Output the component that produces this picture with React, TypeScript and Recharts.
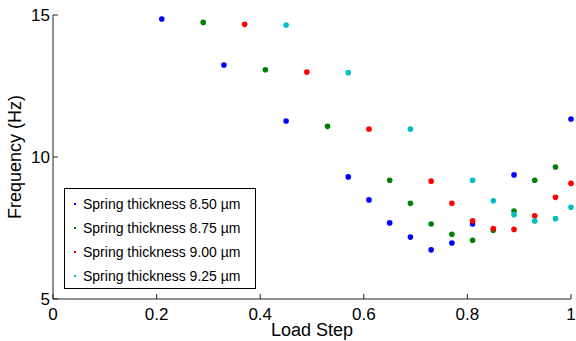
import { ScatterChart, Scatter, XAxis, YAxis, Legend } from "recharts";

// load steps and measured frequency (Hz) for each spring thickness
const loadA = [0.21, 0.33, 0.45, 0.57, 0.61, 0.65, 0.69, 0.73, 0.77, 0.81, 0.89, 1.0];
const freqA = [14.86, 13.24, 11.27, 9.3, 8.49, 7.68, 7.18, 6.73, 6.97, 7.64, 9.37, 11.34];

const loadB = [0.29, 0.41, 0.53, 0.65, 0.69, 0.73, 0.77, 0.81, 0.85, 0.89, 0.93, 0.97];
const freqB = [14.74, 13.07, 11.08, 9.18, 8.37, 7.64, 7.28, 7.07, 7.42, 8.1, 9.18, 9.65];

const loadC = [0.37, 0.49, 0.61, 0.73, 0.77, 0.81, 0.85, 0.89, 0.93, 0.97, 1.0];
const freqC = [14.67, 12.99, 10.98, 9.15, 8.37, 7.75, 7.48, 7.45, 7.93, 8.58, 9.07];

const loadD = [0.45, 0.57, 0.69, 0.81, 0.85, 0.89, 0.93, 0.97, 1.0];
const freqD = [14.65, 12.97, 10.98, 9.18, 8.46, 7.97, 7.75, 7.83, 8.23];

const seriesNames = [
  "Spring thickness 8.50 \u00b5m",
  "Spring thickness 8.75 \u00b5m",
  "Spring thickness 9.00 \u00b5m",
  "Spring thickness 9.25 \u00b5m"
];
const colors = ["#0000ff", "#008000", "#ff0000", "#00bfbf"];

const xTicks = [0, 0.2, 0.4, 0.6, 0.8, 1];
const yTicks = [5, 10, 15];

const toPoints = (xs: number[], ys: number[]) => xs.map((x, i) => ({ x, y: ys[i] }));
const series = [
  toPoints(loadA, freqA),
  toPoints(loadB, freqB),
  toPoints(loadC, freqC),
  toPoints(loadD, freqD)
];

const font = "'Liberation Sans', Arial, sans-serif";
const axisColor = "#222";

const XTick = (props: any) => {
  const { x, y, payload } = props;
  return (
    <g>
      <line x1={x} y1={y} x2={x} y2={y - 5} stroke={axisColor} />
      <text x={x} y={y + 21} textAnchor="middle" fontSize={17} fontFamily={font} fill="#000">
        {payload.value}
      </text>
    </g>
  );
};

const YTick = (props: any) => {
  const { x, y, payload } = props;
  return (
    <g>
      <line x1={x} y1={y} x2={x + 5} y2={y} stroke={axisColor} />
      <text x={x - 3} y={y + 6} textAnchor="end" fontSize={17} fontFamily={font} fill="#000">
        {payload.value}
      </text>
    </g>
  );
};

const Dot = (props: any) => <circle cx={props.cx} cy={props.cy} r={2.8} fill={props.fill} />;

const LegendBox = () => (
  <div
    style={{
      width: 190,
      height: 96,
      border: "1px solid #000",
      background: "#fff",
      fontFamily: font,
      fontSize: 14,
      color: "#000",
      paddingTop: 3,
      boxSizing: "content-box"
    }}
  >
    {seriesNames.map((name, i) => (
      <div key={i} style={{ height: 24, lineHeight: "24px", position: "relative", whiteSpace: "nowrap" }}>
        <span
          style={{
            position: "absolute",
            left: 9,
            top: 11,
            width: 2,
            height: 2,
            background: colors[i]
          }}
        />
        <span style={{ position: "absolute", left: 18 }}>{name}</span>
      </div>
    ))}
  </div>
);

export default function App() {
  return (
    <div style={{ position: "absolute", left: 0, top: 0, background: "#fff" }}>
      <ScatterChart width={576} height={341} margin={{ top: 15, right: 5, left: 0, bottom: 0 }}>
        <XAxis
          type="number"
          dataKey="x"
          domain={[0, 1]}
          ticks={xTicks}
          tickSize={0}
          tickMargin={0}
          tickLine={false}
          height={42}
          stroke={axisColor}
          tick={<XTick />}
          interval={0}
          label={{
            value: "Load Step",
            position: "insideBottom",
            offset: 5,
            fontSize: 18,
            fontFamily: font,
            fill: "#000"
          }}
        />
        <YAxis
          type="number"
          dataKey="y"
          domain={[5, 15]}
          ticks={yTicks}
          tickSize={0}
          tickMargin={0}
          tickLine={false}
          width={53}
          stroke={axisColor}
          tick={<YTick />}
          interval={0}
          label={{
            value: "Frequency (Hz)",
            angle: -90,
            position: "insideLeft",
            offset: 15,
            style: { textAnchor: "middle" },
            fontSize: 18,
            fontFamily: font,
            fill: "#000"
          }}
        />
        <Legend
          layout="horizontal"
          verticalAlign="middle"
          align="center"
          content={<LegendBox />}
          wrapperStyle={{ left: 64, top: 188, width: "auto", height: "auto" }}
        />
        {series.map((pts, i) => (
          <Scatter
            key={i}
            name={seriesNames[i]}
            data={pts}
            fill={colors[i]}
            shape={<Dot />}
            isAnimationActive={false}
          />
        ))}
      </ScatterChart>
    </div>
  );
}
